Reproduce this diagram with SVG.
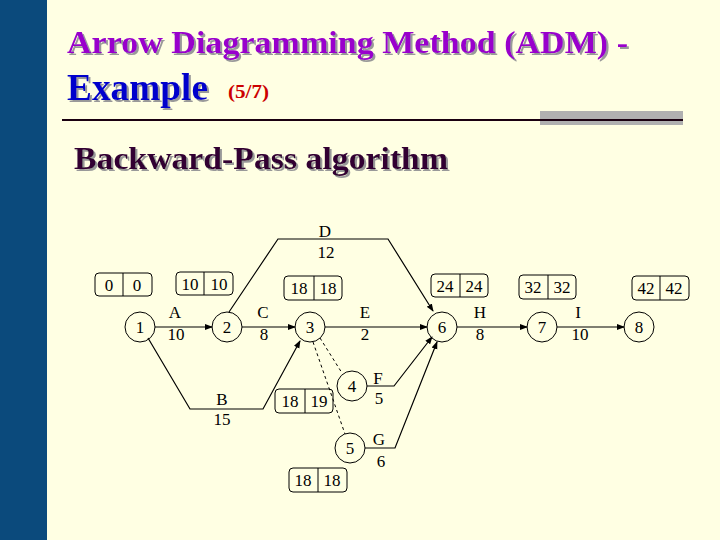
<svg xmlns="http://www.w3.org/2000/svg" width="720" height="540" viewBox="0 0 720 540">
<defs>
<marker id="ar" markerWidth="8" markerHeight="8" refX="7" refY="4" orient="auto" markerUnits="userSpaceOnUse"><path d="M0,1 L8,4 L0,7 Z" fill="#000"/></marker>
<filter id="sh" x="-5%" y="-20%" width="110%" height="140%"><feDropShadow dx="2" dy="2" stdDeviation="0.3" flood-color="#999"/></filter>
<style>
.t{font-family:"Liberation Serif",serif;font-size:17px;text-anchor:middle;fill:#000}
.n{fill:none;stroke:#000;stroke-width:1}
.b{fill:none;stroke:#000;stroke-width:1}
.e{fill:none;stroke:#000;stroke-width:1.2}
.d{fill:none;stroke:#000;stroke-width:1;stroke-dasharray:3,3}
.h{font-family:"Liberation Serif",serif;font-weight:bold}
</style>
</defs>
<rect width="720" height="540" fill="#FFFFE3"/>
<rect width="47" height="540" fill="#0B4A7C"/>
<g id="title" class="h">
<text x="67" y="53" font-size="32" fill="#9900CC" filter="url(#sh)" textLength="561" lengthAdjust="spacingAndGlyphs">Arrow Diagramming Method (ADM) -</text>
<text x="67" y="100" font-size="37" fill="#0000CC" filter="url(#sh)" textLength="141" lengthAdjust="spacingAndGlyphs">Example</text>
<text x="228" y="98" font-size="19" fill="#CC0000" textLength="41" lengthAdjust="spacingAndGlyphs">(5/7)</text>
<rect x="540" y="111" width="143" height="14" fill="#B0B0B0"/>
<line x1="62" y1="120" x2="683" y2="120" stroke="#1a0010" stroke-width="2"/>
<text x="74" y="169" font-size="32" fill="#330033" filter="url(#sh)" textLength="374" lengthAdjust="spacingAndGlyphs">Backward-Pass algorithm</text>
</g>
<g id="connectors">
<line class="e" x1="155" y1="327" x2="212" y2="327" marker-end="url(#ar)"/>
<line class="e" x1="242" y1="327" x2="295" y2="327" marker-end="url(#ar)"/>
<line class="e" x1="325" y1="327" x2="427" y2="327" marker-end="url(#ar)"/>
<line class="e" x1="457" y1="327" x2="527" y2="327" marker-end="url(#ar)"/>
<line class="e" x1="557" y1="327" x2="624" y2="327" marker-end="url(#ar)"/>
<polyline class="e" points="229,312 278,239 388,239 433,311" marker-end="url(#ar)"/>
<polyline class="e" points="148,338 190,409 263,409 300,341" stroke-width="1.6" marker-end="url(#ar)"/>
<polyline class="e" points="367,386 394,386 432,337" stroke-width="1.6" marker-end="url(#ar)"/>
<polyline class="e" points="365,448 395,448 437,342" stroke-width="1.6" marker-end="url(#ar)"/>
<line class="d" x1="320" y1="338" x2="342" y2="373"/>
<line class="d" x1="313" y1="342" x2="345" y2="434"/>
</g>
<g class="t">
<text x="175" y="318">A</text><text x="176" y="340">10</text>
<text x="263" y="318">C</text><text x="264" y="340">8</text>
<text x="325" y="237">D</text><text x="326" y="258">12</text>
<text x="222" y="405">B</text><text x="222" y="425">15</text>
<text x="365" y="318">E</text><text x="365" y="340">2</text>
<text x="378" y="384">F</text><text x="379" y="404">5</text>
<text x="379" y="445">G</text><text x="381" y="467">6</text>
<text x="480" y="318">H</text><text x="480" y="340">8</text>
<text x="578" y="318">I</text><text x="580" y="340">10</text>
</g>
<g id="n1"><circle class="n" cx="140" cy="327" r="15" fill="#FFFFE3"/><text class="t" x="140" y="333">1</text></g>
<g id="n2"><circle class="n" cx="227" cy="327" r="15" fill="#FFFFE3"/><text class="t" x="227" y="333">2</text></g>
<g id="n3"><circle class="n" cx="310" cy="327" r="15" fill="#FFFFE3"/><text class="t" x="310" y="333">3</text></g>
<g id="n4"><circle class="n" cx="352" cy="386" r="15" fill="#FFFFE3"/><text class="t" x="352" y="392">4</text></g>
<g id="n5"><circle class="n" cx="350" cy="448" r="15" fill="#FFFFE3"/><text class="t" x="350" y="454">5</text></g>
<g id="n6"><circle class="n" cx="442" cy="327" r="15" fill="#FFFFE3"/><text class="t" x="442" y="333">6</text></g>
<g id="n7"><circle class="n" cx="542" cy="327" r="15" fill="#FFFFE3"/><text class="t" x="542" y="333">7</text></g>
<g id="n8"><circle class="n" cx="639" cy="327" r="15" fill="#FFFFE3"/><text class="t" x="639" y="333">8</text></g>
<g id="box1"><rect class="b" x="95" y="273" width="57" height="23" rx="4" fill="#FFFFE3"/><line class="b" x1="123" y1="273" x2="123" y2="296"/><text class="t" x="109" y="291">0</text><text class="t" x="137" y="291">0</text></g>
<g id="box2"><rect class="b" x="176" y="272" width="57" height="23" rx="4" fill="#FFFFE3"/><line class="b" x1="204" y1="272" x2="204" y2="295"/><text class="t" x="190" y="290">10</text><text class="t" x="219" y="290">10</text></g>
<g id="box3"><rect class="b" x="284" y="276" width="58" height="24" rx="4" fill="#FFFFE3"/><line class="b" x1="314" y1="276" x2="314" y2="300"/><text class="t" x="299" y="294">18</text><text class="t" x="328" y="294">18</text></g>
<g id="box4"><rect class="b" x="275" y="389" width="58" height="24" rx="4" fill="#FFFFE3"/><line class="b" x1="305" y1="389" x2="305" y2="413"/><text class="t" x="290" y="407">18</text><text class="t" x="319" y="407">19</text></g>
<g id="box5"><rect class="b" x="289" y="468" width="58" height="24" rx="4" fill="#FFFFE3"/><line class="b" x1="318" y1="468" x2="318" y2="492"/><text class="t" x="303" y="486">18</text><text class="t" x="332" y="486">18</text></g>
<g id="box6"><rect class="b" x="431" y="274" width="57" height="23" rx="4" fill="#FFFFE3"/><line class="b" x1="460" y1="274" x2="460" y2="297"/><text class="t" x="445" y="292">24</text><text class="t" x="474" y="292">24</text></g>
<g id="box7"><rect class="b" x="519" y="275" width="57" height="24" rx="4" fill="#FFFFE3"/><line class="b" x1="548" y1="275" x2="548" y2="299"/><text class="t" x="533" y="293">32</text><text class="t" x="562" y="293">32</text></g>
<g id="box8"><rect class="b" x="632" y="276" width="57" height="24" rx="4" fill="#FFFFE3"/><line class="b" x1="660" y1="276" x2="660" y2="300"/><text class="t" x="646" y="294">42</text><text class="t" x="674" y="294">42</text></g>
</svg>
